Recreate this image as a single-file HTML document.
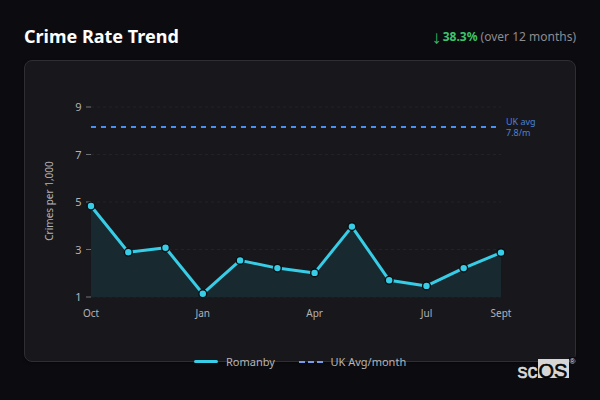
<!DOCTYPE html>
<html><head><meta charset="utf-8">
<style>
*{margin:0;padding:0;box-sizing:border-box}
html,body{width:600px;height:400px;overflow:hidden;background:#0c0c10}
body{position:relative;font-family:"Noto Sans","Liberation Sans",sans-serif;color:#e8e8ea}
.title{position:absolute;left:24px;top:22px;font-size:18px;font-weight:700;color:#ffffff;line-height:28px;white-space:nowrap}
.delta{position:absolute;right:24px;top:27px;font-size:12px;line-height:20px;white-space:nowrap;color:#8b8b92}
.delta .arr{position:relative;top:1px;color:#36b862;font-family:"Noto Sans Math","DejaVu Sans",sans-serif}
.delta b{color:#3cc56d;font-weight:700}
.card{position:absolute;left:24px;top:60px;width:552px;height:302px;background:#18181c;border:1px solid #2e2e33;border-radius:8px;box-shadow:0 1px 3px rgba(0,0,0,.4)}
svg.chart{position:absolute;left:0;top:0}
.logo{position:absolute;left:0;top:0;font-family:"Liberation Sans",Arial,sans-serif;font-size:20px;line-height:20px;white-space:nowrap}
.logo .sc{position:absolute;left:517.5px;top:361px;color:#dadada;-webkit-text-stroke:0.6px #dadada}
.logo .box{position:absolute;left:537.5px;top:359px;width:31px;height:19px;background:#d6d6d6}
.logo .os{position:absolute;left:538.5px;top:360.8px;color:#050505;-webkit-text-stroke:0.6px #050505}
.logo .reg{position:absolute;left:568.5px;top:356.5px;width:8px;height:9px;background:#0c0c10;font-size:8px;line-height:9px;color:#dfe4ea;text-align:center}
</style></head>
<body>
<div class="title">Crime Rate Trend</div>
<div class="delta"><span class="arr">↓</span> <b>38.3%</b> (over 12 months)</div>
<div class="card"></div>
<svg class="chart" width="600" height="400" viewBox="0 0 600 400">
  <!-- gridlines -->
  <g stroke="#222227" stroke-width="1" stroke-dasharray="3 3">
    <line x1="91" y1="107" x2="501" y2="107"/>
    <line x1="91" y1="154.5" x2="501" y2="154.5"/>
    <line x1="91" y1="202" x2="501" y2="202"/>
    <line x1="91" y1="249.5" x2="501" y2="249.5"/>
    <line x1="91" y1="297" x2="501" y2="297"/>
  </g>
  <!-- ticks -->
  <g stroke="#707077" stroke-width="1">
    <line x1="86" y1="107" x2="91" y2="107"/>
    <line x1="86" y1="154.5" x2="91" y2="154.5"/>
    <line x1="86" y1="202" x2="91" y2="202"/>
    <line x1="86" y1="249.5" x2="91" y2="249.5"/>
    <line x1="86" y1="297" x2="91" y2="297"/>
  </g>
  <g font-family="Noto Sans, Liberation Sans, sans-serif" font-size="11" fill="#b2b2b8" text-anchor="end">
    <text x="81.5" y="111">9</text>
    <text x="81.5" y="158.5">7</text>
    <text x="81.5" y="206">5</text>
    <text x="81.5" y="253.5">3</text>
    <text x="81.5" y="301">1</text>
  </g>
  <text transform="translate(53 201) rotate(-90)" font-family="Noto Sans, Liberation Sans, sans-serif" font-size="10" fill="#b2b2b8" text-anchor="middle">Crimes per 1,000</text>
  <!-- UK avg line -->
  <line x1="91" y1="127" x2="497" y2="127" stroke="#4a8ff0" stroke-width="2" stroke-dasharray="5 5"/>
  <g font-family="Noto Sans, Liberation Sans, sans-serif" font-size="9" fill="#4a80d8">
    <text x="506" y="124.5">UK avg</text>
    <text x="506" y="135.5">7.8/m</text>
  </g>
  <!-- area -->
  <path d="M91 206 L128.3 252.2 L165.5 247.8 L202.8 293.7 L240.1 260.4 L277.4 268.1 L314.6 272.9 L351.9 226.6 L389.2 280.3 L426.5 285.9 L463.7 268.1 L501 252.6 L501 297 L91 297 Z" fill="#18292f"/>
  <path d="M91 206 L128.3 252.2 L165.5 247.8 L202.8 293.7 L240.1 260.4 L277.4 268.1 L314.6 272.9 L351.9 226.6 L389.2 280.3 L426.5 285.9 L463.7 268.1 L501 252.6" fill="none" stroke="#38cde6" stroke-width="3" stroke-linejoin="round"/>
  <g fill="#38cde6" stroke="#0a0e12" stroke-width="1.4">
    <circle cx="91" cy="206" r="3.9"/>
    <circle cx="128.3" cy="252.2" r="3.9"/>
    <circle cx="165.5" cy="247.8" r="3.9"/>
    <circle cx="202.8" cy="293.7" r="3.9"/>
    <circle cx="240.1" cy="260.4" r="3.9"/>
    <circle cx="277.4" cy="268.1" r="3.9"/>
    <circle cx="314.6" cy="272.9" r="3.9"/>
    <circle cx="351.9" cy="226.6" r="3.9"/>
    <circle cx="389.2" cy="280.3" r="3.9"/>
    <circle cx="426.5" cy="285.9" r="3.9"/>
    <circle cx="463.7" cy="268.1" r="3.9"/>
    <circle cx="501" cy="252.6" r="3.9"/>
  </g>
  <g font-family="Noto Sans, Liberation Sans, sans-serif" font-size="10" fill="#b2b2b8" text-anchor="middle">
    <text x="91" y="316.5">Oct</text>
    <text x="202.8" y="316.5">Jan</text>
    <text x="314.6" y="316.5">Apr</text>
    <text x="426.5" y="316.5">Jul</text>
    <text x="501" y="316.5">Sept</text>
  </g>
  <!-- legend -->
  <line x1="195.5" y1="361.5" x2="216.5" y2="361.5" stroke="#38cde6" stroke-width="3" stroke-linecap="round"/>
  <text x="226" y="366" font-family="Noto Sans, Liberation Sans, sans-serif" font-size="11" fill="#b4b4ba">Romanby</text>
  <line x1="299" y1="362" x2="323" y2="362" stroke="#7a9be8" stroke-width="2" stroke-dasharray="6 3"/>
  <text x="330.5" y="366" font-family="Noto Sans, Liberation Sans, sans-serif" font-size="11" fill="#b4b4ba">UK Avg/month</text>
</svg>
<div class="logo"><span class="sc">sc</span><div class="box"></div><span class="os">OS</span><div class="reg">®</div></div>
</body></html>
